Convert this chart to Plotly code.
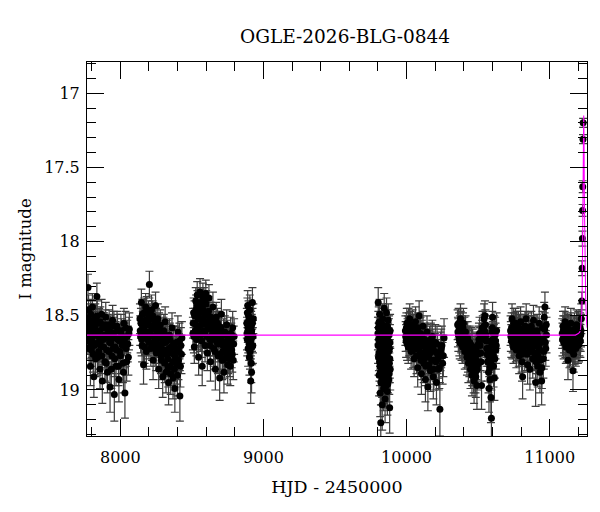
import plotly.graph_objects as go

# (HJD - 2450000, I mag, error) per observing season
season1 = [
    (7771, 18.58, 0.10), (7774, 18.31, 0.09), (7778, 18.46, 0.10), (7782, 18.72, 0.12), (7787, 18.63, 0.11),
    (7791, 18.84, 0.13), (7796, 18.55, 0.10), (7800, 18.67, 0.11), (7805, 18.44, 0.09), (7810, 18.76, 0.12),
    (7815, 18.91, 0.14), (7820, 18.61, 0.10), (7825, 18.52, 0.10), (7830, 18.69, 0.11), (7836, 18.37, 0.09),
    (7841, 18.78, 0.12), (7847, 18.64, 0.11), (7852, 18.55, 0.10), (7858, 18.86, 0.13), (7863, 18.70, 0.11),
    (7869, 18.49, 0.10), (7874, 18.94, 0.15), (7880, 18.66, 0.11), (7886, 18.58, 0.10), (7892, 18.81, 0.13),
    (7898, 18.51, 0.10), (7904, 18.73, 0.12), (7910, 18.88, 0.14), (7916, 18.63, 0.11), (7922, 18.56, 0.10),
    (7928, 18.98, 0.17), (7934, 18.68, 0.11), (7940, 18.77, 0.12), (7946, 18.53, 0.10), (7952, 18.62, 0.11),
    (7958, 19.03, 0.18), (7964, 18.71, 0.12), (7970, 18.84, 0.13), (7977, 18.57, 0.10), (7983, 18.66, 0.11),
    (7990, 18.93, 0.15), (7997, 18.74, 0.12), (8004, 18.60, 0.11), (8011, 18.69, 0.11), (8018, 18.82, 0.13),
    (8025, 18.55, 0.10), (8032, 19.02, 0.17), (8040, 18.72, 0.12), (8048, 18.64, 0.11), (8056, 18.78, 0.12),
    (8063, 18.59, 0.11),
    (7773, 18.66, 0.10), (7776, 18.52, 0.10), (7780, 18.61, 0.10), (7784, 18.55, 0.10), (7789, 18.68, 0.11),
    (7793, 18.49, 0.10), (7798, 18.73, 0.11), (7802, 18.58, 0.10), (7807, 18.64, 0.11), (7812, 18.53, 0.10),
    (7817, 18.70, 0.11), (7822, 18.57, 0.10), (7827, 18.79, 0.12), (7833, 18.62, 0.11), (7838, 18.50, 0.10),
    (7844, 18.68, 0.11), (7849, 18.74, 0.12), (7855, 18.60, 0.11), (7860, 18.54, 0.10), (7866, 18.66, 0.11),
    (7871, 18.77, 0.12), (7877, 18.58, 0.10), (7883, 18.71, 0.12), (7889, 18.63, 0.11), (7895, 18.56, 0.10),
    (7901, 18.82, 0.13), (7907, 18.65, 0.11), (7913, 18.59, 0.10), (7919, 18.74, 0.12), (7925, 18.68, 0.11),
    (7931, 18.61, 0.11), (7937, 18.86, 0.13), (7943, 18.64, 0.11), (7949, 18.72, 0.12), (7955, 18.57, 0.10),
    (7961, 18.79, 0.12), (7967, 18.65, 0.11), (7974, 18.73, 0.12), (7980, 18.60, 0.11), (7987, 18.84, 0.13),
    (7994, 18.67, 0.11), (8001, 18.77, 0.12), (8008, 18.63, 0.11), (8015, 18.70, 0.12), (8022, 18.88, 0.14),
    (8029, 18.66, 0.11), (8036, 18.58, 0.11), (8044, 18.81, 0.13), (8052, 18.69, 0.12), (8060, 18.62, 0.11),
]
season2 = [
    (8137, 18.52, 0.10), (8142, 18.64, 0.11), (8147, 18.41, 0.09), (8152, 18.70, 0.11), (8157, 18.57, 0.10),
    (8162, 18.83, 0.13), (8167, 18.48, 0.10), (8172, 18.62, 0.10), (8177, 18.44, 0.09), (8182, 18.74, 0.12),
    (8187, 18.55, 0.10), (8192, 18.66, 0.11), (8197, 18.50, 0.10), (8203, 18.29, 0.09), (8208, 18.61, 0.10),
    (8213, 18.72, 0.12), (8218, 18.46, 0.10), (8224, 18.58, 0.10), (8229, 18.80, 0.13), (8235, 18.53, 0.10),
    (8240, 18.67, 0.11), (8246, 18.43, 0.09), (8251, 18.75, 0.12), (8257, 18.60, 0.11), (8262, 18.52, 0.10),
    (8268, 18.86, 0.13), (8273, 18.64, 0.11), (8279, 18.56, 0.10), (8284, 18.77, 0.12), (8290, 18.69, 0.11),
    (8296, 18.91, 0.14), (8301, 18.62, 0.11), (8307, 18.73, 0.12), (8313, 18.54, 0.10), (8319, 18.88, 0.14),
    (8325, 18.67, 0.11), (8331, 18.79, 0.12), (8337, 18.95, 0.15), (8343, 18.63, 0.11), (8349, 18.84, 0.13),
    (8355, 18.71, 0.12), (8361, 18.58, 0.10), (8368, 18.92, 0.14), (8374, 18.76, 0.12), (8381, 18.99, 0.16),
    (8388, 18.68, 0.11), (8395, 18.83, 0.13), (8402, 18.61, 0.11), (8409, 18.74, 0.12), (8416, 19.04, 0.17),
    (8423, 18.70, 0.12), (8430, 18.65, 0.11),
    (8139, 18.60, 0.10), (8144, 18.55, 0.10), (8149, 18.66, 0.11), (8154, 18.49, 0.10), (8159, 18.62, 0.10),
    (8164, 18.58, 0.10), (8169, 18.71, 0.11), (8174, 18.53, 0.10), (8179, 18.65, 0.11), (8184, 18.47, 0.10),
    (8189, 18.61, 0.10), (8195, 18.56, 0.10), (8200, 18.68, 0.11), (8205, 18.52, 0.10), (8210, 18.63, 0.11),
    (8216, 18.57, 0.10), (8221, 18.69, 0.11), (8226, 18.50, 0.10), (8232, 18.64, 0.11), (8238, 18.59, 0.10),
    (8243, 18.72, 0.12), (8249, 18.55, 0.10), (8254, 18.66, 0.11), (8260, 18.61, 0.11), (8265, 18.70, 0.12),
    (8271, 18.58, 0.10), (8276, 18.73, 0.12), (8282, 18.63, 0.11), (8287, 18.80, 0.13), (8293, 18.66, 0.11),
    (8298, 18.74, 0.12), (8304, 18.60, 0.11), (8310, 18.82, 0.13), (8316, 18.68, 0.11), (8322, 18.76, 0.12),
    (8328, 18.64, 0.11), (8334, 18.85, 0.13), (8340, 18.72, 0.12), (8346, 18.66, 0.11), (8352, 18.89, 0.14),
    (8358, 18.75, 0.12), (8365, 18.81, 0.13), (8371, 18.69, 0.12), (8378, 18.86, 0.14), (8385, 18.78, 0.13),
    (8392, 18.72, 0.12), (8399, 18.90, 0.14), (8406, 18.80, 0.13), (8413, 18.67, 0.12), (8420, 18.84, 0.14),
    (8427, 18.76, 0.13),
]
season3 = [
    (8507, 18.62, 0.11), (8512, 18.48, 0.10), (8517, 18.71, 0.11), (8522, 18.55, 0.10), (8527, 18.40, 0.09),
    (8532, 18.66, 0.11), (8537, 18.36, 0.09), (8542, 18.58, 0.10), (8547, 18.78, 0.12), (8552, 18.45, 0.10),
    (8557, 18.34, 0.09), (8562, 18.63, 0.11), (8567, 18.52, 0.10), (8572, 18.84, 0.13), (8577, 18.37, 0.09),
    (8582, 18.60, 0.10), (8587, 18.47, 0.10), (8592, 18.70, 0.11), (8597, 18.35, 0.09), (8603, 18.56, 0.10),
    (8608, 18.75, 0.12), (8614, 18.50, 0.10), (8619, 18.38, 0.09), (8625, 18.66, 0.11), (8630, 18.81, 0.13),
    (8636, 18.54, 0.10), (8641, 18.63, 0.11), (8647, 18.44, 0.10), (8652, 18.72, 0.12), (8658, 18.59, 0.10),
    (8664, 18.86, 0.14), (8670, 18.51, 0.10), (8676, 18.68, 0.11), (8682, 18.77, 0.12), (8688, 18.57, 0.10),
    (8694, 18.92, 0.15), (8700, 18.64, 0.11), (8706, 18.49, 0.10), (8712, 18.80, 0.13), (8718, 18.70, 0.12),
    (8724, 18.88, 0.14), (8730, 18.61, 0.11), (8737, 18.75, 0.12), (8743, 18.56, 0.10), (8750, 18.83, 0.13),
    (8757, 18.67, 0.11), (8764, 18.79, 0.12), (8771, 18.62, 0.11), (8778, 18.73, 0.12), (8785, 18.58, 0.11),
    (8792, 18.69, 0.12),
    (8509, 18.55, 0.10), (8514, 18.64, 0.11), (8519, 18.50, 0.10), (8524, 18.60, 0.10), (8529, 18.46, 0.10),
    (8534, 18.57, 0.10), (8539, 18.43, 0.10), (8544, 18.52, 0.10), (8549, 18.62, 0.11), (8554, 18.48, 0.10),
    (8559, 18.41, 0.09), (8564, 18.56, 0.10), (8569, 18.67, 0.11), (8574, 18.45, 0.10), (8579, 18.53, 0.10),
    (8584, 18.40, 0.09), (8589, 18.61, 0.11), (8594, 18.49, 0.10), (8600, 18.42, 0.09), (8605, 18.64, 0.11),
    (8611, 18.54, 0.10), (8616, 18.47, 0.10), (8622, 18.59, 0.10), (8627, 18.70, 0.12), (8633, 18.51, 0.10),
    (8638, 18.58, 0.10), (8644, 18.66, 0.11), (8650, 18.53, 0.10), (8655, 18.62, 0.11), (8661, 18.74, 0.12),
    (8667, 18.57, 0.10), (8673, 18.64, 0.11), (8679, 18.55, 0.10), (8685, 18.69, 0.12), (8691, 18.61, 0.11),
    (8697, 18.76, 0.12), (8703, 18.58, 0.10), (8709, 18.67, 0.11), (8715, 18.74, 0.12), (8721, 18.63, 0.11),
    (8727, 18.79, 0.13), (8733, 18.68, 0.11), (8740, 18.72, 0.12), (8747, 18.64, 0.11), (8754, 18.77, 0.12),
    (8761, 18.71, 0.12), (8768, 18.84, 0.13), (8775, 18.66, 0.11), (8782, 18.76, 0.12), (8789, 18.80, 0.13),
    (8795, 18.64, 0.12),
]
season4 = [
    (8884, 18.55, 0.10), (8887, 18.66, 0.11), (8890, 18.43, 0.10), (8893, 18.72, 0.12), (8896, 18.50, 0.10),
    (8899, 18.61, 0.11), (8902, 18.78, 0.12), (8905, 18.46, 0.10), (8908, 18.68, 0.11), (8911, 18.94, 0.15),
    (8914, 18.57, 0.10), (8917, 18.88, 0.14), (8920, 18.63, 0.11), (8923, 18.41, 0.10), (8926, 18.70, 0.12),
    (8929, 18.52, 0.10),
    (8885, 18.62, 0.11), (8888, 18.48, 0.10), (8891, 18.58, 0.10), (8894, 18.64, 0.11), (8897, 18.53, 0.10),
    (8900, 18.69, 0.11), (8903, 18.59, 0.10), (8906, 18.74, 0.12), (8909, 18.56, 0.10), (8912, 18.66, 0.11),
    (8915, 18.82, 0.13), (8918, 18.60, 0.11), (8921, 18.71, 0.12), (8924, 18.55, 0.10), (8927, 18.64, 0.11),
]
season5 = [
    (9800, 18.62, 0.11), (9802, 18.41, 0.10), (9804, 18.78, 0.12), (9806, 18.55, 0.11), (9808, 18.90, 0.14),
    (9810, 18.67, 0.12), (9812, 18.49, 0.10), (9814, 18.84, 0.13), (9816, 19.02, 0.16), (9818, 18.60, 0.11),
    (9820, 19.22, 0.18), (9822, 18.73, 0.12), (9824, 18.95, 0.15), (9826, 18.58, 0.11), (9828, 18.81, 0.13),
    (9830, 19.10, 0.17), (9832, 18.69, 0.12), (9834, 18.52, 0.10), (9836, 18.87, 0.14), (9838, 18.64, 0.11),
    (9840, 18.99, 0.15), (9842, 18.76, 0.12), (9844, 18.45, 0.10), (9846, 18.92, 0.14), (9848, 18.71, 0.12),
    (9850, 19.06, 0.16), (9852, 18.57, 0.11), (9854, 18.83, 0.13), (9856, 18.66, 0.12), (9858, 18.97, 0.15),
    (9860, 18.48, 0.10), (9862, 18.79, 0.13), (9864, 18.62, 0.11), (9866, 19.01, 0.16), (9868, 18.74, 0.12),
    (9870, 18.88, 0.14), (9872, 18.53, 0.11), (9874, 18.70, 0.12), (9876, 18.93, 0.15), (9878, 18.61, 0.11),
    (9880, 18.82, 0.13), (9882, 19.12, 0.17), (9884, 18.68, 0.12), (9886, 18.86, 0.14),
    (9801, 18.70, 0.12), (9803, 18.58, 0.11), (9805, 18.66, 0.11), (9807, 18.75, 0.12), (9809, 18.54, 0.11),
    (9811, 18.81, 0.13), (9813, 18.63, 0.11), (9815, 18.72, 0.12), (9817, 18.88, 0.14), (9819, 18.59, 0.11),
    (9821, 18.95, 0.15), (9823, 18.64, 0.12), (9825, 18.77, 0.12), (9827, 18.69, 0.12), (9829, 18.91, 0.14),
    (9831, 18.56, 0.11), (9833, 18.80, 0.13), (9835, 18.73, 0.12), (9837, 18.61, 0.11), (9839, 18.85, 0.14),
    (9841, 18.67, 0.12), (9843, 18.94, 0.15), (9845, 18.71, 0.12), (9847, 18.59, 0.11), (9849, 18.83, 0.13),
    (9851, 18.76, 0.12), (9853, 18.65, 0.11), (9855, 18.90, 0.14), (9857, 18.72, 0.12), (9859, 18.62, 0.11),
    (9861, 18.86, 0.14), (9863, 18.70, 0.12), (9865, 18.78, 0.13), (9867, 18.57, 0.11), (9869, 18.96, 0.15),
    (9871, 18.67, 0.12), (9873, 18.81, 0.13), (9875, 18.74, 0.12), (9877, 18.63, 0.11), (9879, 18.89, 0.14),
    (9881, 18.72, 0.12), (9883, 18.79, 0.13), (9885, 18.60, 0.11),
]
season6 = [
    (9992, 18.60, 0.10), (9997, 18.67, 0.11), (10002, 18.55, 0.10), (10007, 18.63, 0.11), (10012, 18.71, 0.11),
    (10017, 18.58, 0.10), (10022, 18.52, 0.10), (10027, 18.66, 0.11), (10032, 18.74, 0.12), (10037, 18.61, 0.10),
    (10042, 18.56, 0.10), (10048, 18.69, 0.11), (10053, 18.79, 0.12), (10058, 18.63, 0.11), (10063, 18.54, 0.10),
    (10068, 18.72, 0.12), (10073, 18.60, 0.11), (10078, 18.85, 0.13), (10083, 18.67, 0.11), (10088, 18.50, 0.10),
    (10093, 18.76, 0.12), (10098, 18.62, 0.11), (10104, 18.89, 0.14), (10109, 18.70, 0.12), (10115, 18.57, 0.10),
    (10120, 18.82, 0.13), (10126, 18.66, 0.11), (10132, 18.93, 0.15), (10137, 18.74, 0.12), (10143, 18.61, 0.11),
    (10149, 18.98, 0.16), (10155, 18.78, 0.12), (10161, 18.69, 0.12), (10167, 18.87, 0.14), (10173, 18.73, 0.12),
    (10180, 18.64, 0.11), (10187, 18.91, 0.15), (10194, 18.80, 0.13), (10201, 18.68, 0.12), (10209, 18.95, 0.15),
    (10217, 18.76, 0.13), (10225, 18.86, 0.14), (10233, 19.13, 0.18), (10242, 18.72, 0.13), (10252, 18.82, 0.14),
    (10262, 18.65, 0.13),
    (9994, 18.64, 0.10), (9999, 18.58, 0.10), (10004, 18.69, 0.11), (10009, 18.60, 0.10), (10014, 18.55, 0.10),
    (10019, 18.66, 0.11), (10024, 18.62, 0.10), (10029, 18.57, 0.10), (10034, 18.68, 0.11), (10040, 18.64, 0.11),
    (10045, 18.73, 0.12), (10050, 18.59, 0.10), (10055, 18.66, 0.11), (10060, 18.70, 0.11), (10065, 18.61, 0.11),
    (10070, 18.77, 0.12), (10075, 18.65, 0.11), (10080, 18.58, 0.10), (10086, 18.72, 0.12), (10091, 18.63, 0.11),
    (10096, 18.69, 0.11), (10101, 18.80, 0.13), (10107, 18.64, 0.11), (10112, 18.75, 0.12), (10118, 18.68, 0.11),
    (10123, 18.79, 0.12), (10129, 18.71, 0.12), (10135, 18.84, 0.13), (10140, 18.67, 0.11), (10146, 18.77, 0.12),
    (10152, 18.72, 0.12), (10158, 18.83, 0.13), (10164, 18.75, 0.12), (10170, 18.66, 0.11), (10177, 18.80, 0.13),
    (10184, 18.71, 0.12), (10191, 18.86, 0.14), (10198, 18.74, 0.12), (10205, 18.81, 0.13), (10213, 18.69, 0.12),
    (10221, 18.79, 0.13), (10229, 18.85, 0.14), (10237, 18.74, 0.13), (10247, 18.70, 0.13), (10257, 18.77, 0.14),
]
season7 = [
    (10357, 18.56, 0.10), (10362, 18.63, 0.11), (10367, 18.58, 0.10), (10372, 18.68, 0.11), (10377, 18.52, 0.10),
    (10382, 18.64, 0.11), (10387, 18.60, 0.10), (10392, 18.71, 0.11), (10397, 18.55, 0.10), (10402, 18.66, 0.11),
    (10407, 18.74, 0.12), (10412, 18.61, 0.11), (10417, 18.69, 0.11), (10422, 18.78, 0.12), (10427, 18.65, 0.11),
    (10432, 18.82, 0.13), (10437, 18.72, 0.12), (10442, 18.68, 0.11), (10447, 18.86, 0.13), (10452, 18.76, 0.12),
    (10457, 18.90, 0.14), (10462, 18.71, 0.12), (10467, 18.84, 0.13), (10472, 18.94, 0.15), (10477, 18.79, 0.13),
    (10482, 18.88, 0.14), (10487, 18.73, 0.12), (10492, 18.97, 0.16), (10497, 18.83, 0.13), (10502, 18.69, 0.12),
    (10510, 18.62, 0.11), (10518, 18.75, 0.12), (10524, 18.97, 0.16), (10530, 18.58, 0.11), (10536, 18.66, 0.11),
    (10542, 18.52, 0.10), (10548, 18.50, 0.10), (10554, 18.63, 0.11), (10560, 18.72, 0.12), (10566, 18.81, 0.13),
    (10571, 18.67, 0.12), (10576, 18.99, 0.16), (10581, 18.85, 0.14), (10586, 18.74, 0.13), (10590, 19.05, 0.17),
    (10593, 19.19, 0.19), (10597, 18.61, 0.11), (10601, 18.51, 0.10), (10606, 18.77, 0.13), (10610, 18.68, 0.12),
    (10614, 18.92, 0.15), (10619, 18.63, 0.12), (10624, 18.73, 0.13), (10629, 18.60, 0.12),
    (10359, 18.61, 0.10), (10364, 18.55, 0.10), (10369, 18.66, 0.11), (10374, 18.60, 0.10), (10379, 18.57, 0.10),
    (10384, 18.69, 0.11), (10389, 18.63, 0.11), (10394, 18.58, 0.10), (10399, 18.67, 0.11), (10404, 18.62, 0.11),
    (10409, 18.70, 0.11), (10414, 18.65, 0.11), (10419, 18.73, 0.12), (10424, 18.68, 0.11), (10429, 18.76, 0.12),
    (10434, 18.70, 0.12), (10439, 18.79, 0.12), (10444, 18.74, 0.12), (10449, 18.81, 0.13), (10454, 18.70, 0.12),
    (10459, 18.84, 0.13), (10464, 18.77, 0.12), (10469, 18.88, 0.14), (10474, 18.82, 0.13), (10479, 18.74, 0.12),
    (10484, 18.91, 0.14), (10489, 18.80, 0.13), (10494, 18.86, 0.14), (10499, 18.76, 0.12), (10506, 18.66, 0.11),
    (10514, 18.70, 0.12), (10521, 18.81, 0.13), (10527, 18.64, 0.11), (10533, 18.61, 0.11), (10539, 18.57, 0.10),
    (10545, 18.60, 0.11), (10551, 18.56, 0.10), (10557, 18.67, 0.11), (10563, 18.76, 0.12), (10568, 18.72, 0.12),
    (10573, 18.88, 0.14), (10578, 18.78, 0.13), (10583, 18.93, 0.15), (10588, 18.82, 0.13), (10595, 18.70, 0.12),
    (10599, 18.58, 0.11), (10603, 18.66, 0.12), (10608, 18.84, 0.14), (10612, 18.62, 0.12), (10617, 18.79, 0.13),
    (10622, 18.67, 0.12), (10627, 18.70, 0.12),
]
season8 = [
    (10727, 18.60, 0.10), (10732, 18.67, 0.11), (10737, 18.52, 0.10), (10742, 18.64, 0.11), (10747, 18.71, 0.11),
    (10752, 18.58, 0.10), (10757, 18.66, 0.11), (10762, 18.55, 0.10), (10767, 18.73, 0.12), (10772, 18.62, 0.11),
    (10777, 18.69, 0.11), (10782, 18.57, 0.10), (10787, 18.77, 0.12), (10792, 18.64, 0.11), (10797, 18.54, 0.10),
    (10802, 18.72, 0.12), (10807, 18.81, 0.13), (10811, 18.91, 0.15), (10816, 18.66, 0.11), (10821, 18.59, 0.10),
    (10826, 18.75, 0.12), (10831, 18.63, 0.11), (10836, 18.52, 0.10), (10841, 18.70, 0.12), (10846, 18.83, 0.13),
    (10851, 18.61, 0.11), (10856, 18.68, 0.12), (10862, 18.86, 0.14), (10867, 18.74, 0.12), (10872, 18.57, 0.10),
    (10877, 18.65, 0.11), (10882, 18.79, 0.13), (10887, 18.53, 0.10), (10892, 18.69, 0.12), (10897, 18.62, 0.11),
    (10902, 18.95, 0.16), (10907, 18.76, 0.13), (10912, 18.60, 0.11), (10917, 18.84, 0.14), (10922, 18.71, 0.12),
    (10927, 18.55, 0.11), (10932, 18.88, 0.14), (10937, 18.66, 0.12), (10944, 18.94, 0.16), (10950, 18.58, 0.11),
    (10956, 18.79, 0.13), (10962, 18.51, 0.10), (10967, 18.44, 0.10), (10973, 18.72, 0.12), (10978, 18.63, 0.12),
    (10729, 18.64, 0.10), (10734, 18.58, 0.10), (10739, 18.68, 0.11), (10744, 18.61, 0.10), (10749, 18.55, 0.10),
    (10754, 18.66, 0.11), (10759, 18.60, 0.10), (10764, 18.70, 0.11), (10769, 18.57, 0.10), (10774, 18.66, 0.11),
    (10779, 18.62, 0.11), (10784, 18.72, 0.12), (10789, 18.59, 0.10), (10794, 18.68, 0.11), (10799, 18.63, 0.11),
    (10804, 18.76, 0.12), (10809, 18.67, 0.11), (10814, 18.60, 0.10), (10818, 18.71, 0.12), (10823, 18.64, 0.11),
    (10828, 18.57, 0.10), (10833, 18.69, 0.11), (10838, 18.62, 0.11), (10843, 18.76, 0.12), (10848, 18.66, 0.11),
    (10853, 18.58, 0.10), (10859, 18.73, 0.12), (10864, 18.64, 0.11), (10869, 18.69, 0.12), (10874, 18.61, 0.11),
    (10879, 18.72, 0.12), (10884, 18.66, 0.11), (10889, 18.60, 0.10), (10894, 18.75, 0.12), (10899, 18.67, 0.11),
    (10904, 18.81, 0.13), (10909, 18.70, 0.12), (10914, 18.63, 0.11), (10919, 18.77, 0.12), (10924, 18.65, 0.11),
    (10929, 18.73, 0.12), (10934, 18.80, 0.13), (10940, 18.68, 0.12), (10946, 18.85, 0.14), (10953, 18.66, 0.12),
    (10959, 18.74, 0.12), (10965, 18.59, 0.11), (10970, 18.68, 0.12), (10976, 18.56, 0.11),
]
season9 = [
    (11088, 18.62, 0.10), (11093, 18.57, 0.10), (11098, 18.68, 0.11), (11103, 18.60, 0.10), (11108, 18.54, 0.10),
    (11113, 18.71, 0.11), (11118, 18.64, 0.11), (11123, 18.58, 0.10), (11128, 18.80, 0.13), (11133, 18.66, 0.11),
    (11138, 18.73, 0.12), (11143, 18.61, 0.11), (11148, 18.55, 0.10), (11153, 18.69, 0.12), (11158, 18.63, 0.11),
    (11163, 18.87, 0.14), (11168, 18.76, 0.12), (11173, 18.59, 0.11), (11178, 18.67, 0.11), (11183, 18.72, 0.12),
    (11188, 18.56, 0.10), (11193, 18.64, 0.11), (11198, 18.70, 0.12), (11203, 18.61, 0.11), (11208, 18.66, 0.11),
    (11213, 18.58, 0.10), (11217, 18.63, 0.11), (11221, 18.52, 0.10),
    (11090, 18.66, 0.11), (11095, 18.60, 0.10), (11100, 18.64, 0.11), (11105, 18.57, 0.10), (11110, 18.67, 0.11),
    (11115, 18.62, 0.11), (11120, 18.70, 0.11), (11125, 18.65, 0.11), (11130, 18.59, 0.10), (11135, 18.69, 0.11),
    (11140, 18.64, 0.11), (11145, 18.72, 0.12), (11150, 18.60, 0.10), (11155, 18.66, 0.11), (11160, 18.74, 0.12),
    (11165, 18.68, 0.11), (11170, 18.62, 0.11), (11175, 18.71, 0.12), (11180, 18.65, 0.11), (11185, 18.60, 0.10),
    (11190, 18.68, 0.11), (11195, 18.63, 0.11), (11200, 18.57, 0.10), (11205, 18.69, 0.12), (11210, 18.62, 0.11),
    (11215, 18.67, 0.11), (11219, 18.60, 0.11),
]
# rising part of the event
spike = [
    (11225, 18.40, 0.06), (11227, 18.18, 0.05), (11229, 17.98, 0.05), (11230, 17.79, 0.04),
    (11231, 17.63, 0.04), (11233, 17.31, 0.03), (11234, 17.20, 0.03),
]

# model curve (magenta)
model_t = [7765, 11180, 11200, 11210, 11216, 11220, 11224, 11227, 11230, 11233, 11236, 11238,
           11240, 11243, 11247, 11252, 11258, 11262]
model_m = [18.63, 18.63, 18.62, 18.61, 18.59, 18.56, 18.49, 18.38, 18.12, 17.68, 17.22, 17.15,
           17.30, 17.75, 18.15, 18.40, 18.54, 18.58]

points = season1 + season2 + season3 + season4 + season5 + season6 + season7 + season8 + season9 + spike
hjd = [p[0] for p in points]
mag = [p[1] for p in points]
err = [p[2] for p in points]

FONT = "DejaVu Serif"

fig = go.Figure()

fig.add_trace(go.Scatter(
    x=hjd, y=mag, mode="markers",
    marker=dict(color="black", size=7),
    error_y=dict(type="data", array=err, visible=True, color="#3c3c3c", thickness=1.2, width=4),
    showlegend=False,
))

fig.add_trace(go.Scatter(
    x=model_t, y=model_m, mode="lines",
    line=dict(color="#ff00ff", width=1.1),
    showlegend=False,
))

axis_common = dict(
    showline=True, linecolor="black", linewidth=1, mirror="allticks",
    ticks="inside", ticklen=17, tickwidth=1, tickcolor="black",
    showgrid=False, zeroline=False, automargin=False,
    tickfont=dict(family=FONT, size=16, color="black"),
)

# the page body has an 8px margin, so the figure is 8px smaller and margins shifted
fig.update_layout(
    width=592, height=504,
    paper_bgcolor="white", plot_bgcolor="white",
    margin=dict(l=79, r=13, t=54, b=76, autoexpand=False),
    font=dict(family=FONT, color="black"),
    title=dict(
        text="OGLE-2026-BLG-0844", x=0.516, xref="paper", xanchor="center",
        y=1 - 29 / 504, yref="container", yanchor="middle",
        font=dict(family=FONT, size=18.5, color="black"),
    ),
    xaxis=dict(
        axis_common, range=[7767, 11261], dtick=1000, tick0=0, tickformat="d",
        minor=dict(dtick=200, ticklen=9, ticks="inside", tickcolor="black"),
        title=dict(text="HJD - 2450000", font=dict(family=FONT, size=17.5), standoff=14),
        ticklabelstandoff=7,
    ),
    yaxis=dict(
        axis_common, range=[19.31, 16.79], dtick=0.5, tick0=0,
        minor=dict(dtick=0.1, ticklen=9, ticks="inside", tickcolor="black"),
        title=dict(text="I magnitude", font=dict(family=FONT, size=16.5), standoff=8),
        ticklabelstandoff=3,
    ),
)

fig.write_html("out.html")
